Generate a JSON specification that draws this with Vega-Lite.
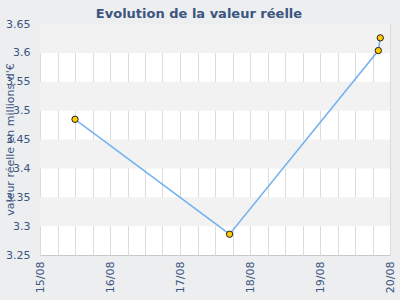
{
  "$schema": "https://vega.github.io/schema/vega-lite/v6.json",
  "width": 350,
  "height": 231,
  "autosize": {"type": "none"},
  "padding": {"left": 40, "top": 24, "right": 10, "bottom": 45},
  "background": "#eceef0",
  "title": {
    "text": "Evolution de la valeur réelle",
    "anchor": "middle",
    "dx": -16,
    "offset": -3,
    "font": "DejaVu Sans",
    "fontSize": 13,
    "fontWeight": "bold",
    "color": "#3b5580"
  },
  "datasets": {
    "bands": [
      {"lo": 3.6, "hi": 3.65},
      {"lo": 3.5, "hi": 3.55},
      {"lo": 3.4, "hi": 3.45},
      {"lo": 3.3, "hi": 3.35}
    ],
    "serie": [
      {"date": "2023-08-15T12:00:00Z", "valeur": 3.485},
      {"date": "2023-08-17T17:00:00Z", "valeur": 3.286},
      {"date": "2023-08-19T20:00:00Z", "valeur": 3.604},
      {"date": "2023-08-19T20:40:00Z", "valeur": 3.626}
    ]
  },
  "config": {
    "view": {"stroke": "#c8c8c8", "fill": "#ffffff"},
    "axis": {
      "labelFont": "DejaVu Sans",
      "labelFontSize": 11,
      "labelColor": "#3b5580",
      "labelOverlap": false,
      "titleFont": "DejaVu Sans",
      "titleFontSize": 11,
      "titleFontWeight": "normal",
      "titleColor": "#3b5580",
      "gridColor": "#dcdcdc",
      "gridOpacity": 1,
      "domain": false,
      "ticks": false
    },
    "axisY": {
      "labelOverlap": false,
      "values": [3.25, 3.3, 3.35, 3.4, 3.45, 3.5, 3.55, 3.6, 3.65],
      "labelPadding": 10,
      "grid": false
    }
  },
  "layer": [
    {
      "data": {"name": "bands"},
      "mark": {"type": "rect", "color": "#f2f2f2"},
      "encoding": {
        "y": {"field": "lo", "type": "quantitative", "scale": {"domain": [3.25, 3.65]},
          "axis": {
            "format": ".2~f",
            "labelOverlap": false,
            "title": "valeur réelle en millions d'€",
            "titleX": -30,
            "titleY": 115,
            "titleAngle": 270,
            "titleAlign": "center",
            "titleBaseline": "middle"
          }},
        "y2": {"field": "hi"}
      }
    },
    {
      "data": {"name": "serie"},
      "mark": {"type": "line", "color": "#74b2f0", "strokeWidth": 1.5},
      "encoding": {
        "x": {"field": "date", "type": "temporal",
          "scale": {"type": "utc", "domain": [{"year": 2023, "month": 8, "date": 15, "utc": true}, {"year": 2023, "month": 8, "date": 20, "utc": true}]},
          "axis": {
            "tickCount": 20,
            "format": "%H %d/%m",
            "labelExpr": "slice(datum.label, 0, 2) == '00' ? slice(datum.label, 3) : ''",
            "labelAngle": 270,
            "labelOverlap": false,
            "labelPadding": 6,
            "labelFlush": false,
            "grid": true,
            "title": null
          }},
        "y": {"field": "valeur", "type": "quantitative", "axis": {"labelOverlap": false, "format": ".2~f"}}
      }
    },
    {
      "data": {"name": "serie"},
      "mark": {"type": "point", "filled": true, "fill": "#ffcc00", "stroke": "#222222", "strokeWidth": 1, "size": 40, "opacity": 1},
      "encoding": {
        "x": {"field": "date", "type": "temporal"},
        "y": {"field": "valeur", "type": "quantitative", "axis": {"labelOverlap": false, "format": ".2~f"}}
      }
    }
  ]
}
